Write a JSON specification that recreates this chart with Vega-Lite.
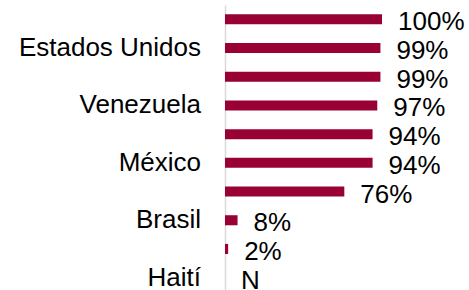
{
  "$schema": "https://vega.github.io/schema/vega-lite/v6.json",
  "width": 157,
  "height": 287,
  "autosize": {"type": "none"},
  "padding": {"left": 225, "top": 5, "right": 87, "bottom": 0},
  "background": "white",
  "config": {"view": {"stroke": null}, "font": "Liberation Sans"},
  "data": {
    "values": [
      {"id": 1, "pais": "", "valor": 1.00, "texto": "100%"},
      {"id": 2, "pais": "Estados Unidos", "valor": 0.99, "texto": "99%"},
      {"id": 3, "pais": "", "valor": 0.99, "texto": "99%"},
      {"id": 4, "pais": "Venezuela", "valor": 0.97, "texto": "97%"},
      {"id": 5, "pais": "", "valor": 0.94, "texto": "94%"},
      {"id": 6, "pais": "México", "valor": 0.94, "texto": "94%"},
      {"id": 7, "pais": "", "valor": 0.76, "texto": "76%"},
      {"id": 8, "pais": "Brasil", "valor": 0.08, "texto": "8%"},
      {"id": 9, "pais": "", "valor": 0.02, "texto": "2%"},
      {"id": 10, "pais": "Haití", "valor": 0, "texto": "N"}
    ]
  },
  "encoding": {
    "y": {
      "field": "id",
      "type": "ordinal",
      "sort": "ascending",
      "scale": {"paddingInner": 0.65, "paddingOuter": 0.325},
      "axis": {"labels": false, "ticks": false, "title": null, "domainColor": "#d9d9d9", "domainWidth": 1.5}
    }
  },
  "layer": [
    {
      "mark": {"type": "bar", "color": "#990033"},
      "encoding": {
        "x": {"field": "valor", "type": "quantitative", "scale": {"domain": [0, 1]}, "axis": null}
      }
    },
    {
      "mark": {"type": "text", "align": "left", "baseline": "middle", "dx": 16, "dy": 3, "fontSize": 26, "color": "#000000"},
      "encoding": {
        "x": {"field": "valor", "type": "quantitative"},
        "text": {"field": "texto"}
      }
    },
    {
      "mark": {"type": "text", "align": "right", "baseline": "middle", "dx": -24, "fontSize": 26, "color": "#000000"},
      "encoding": {
        "x": {"datum": 0},
        "text": {"field": "pais"}
      }
    }
  ]
}
